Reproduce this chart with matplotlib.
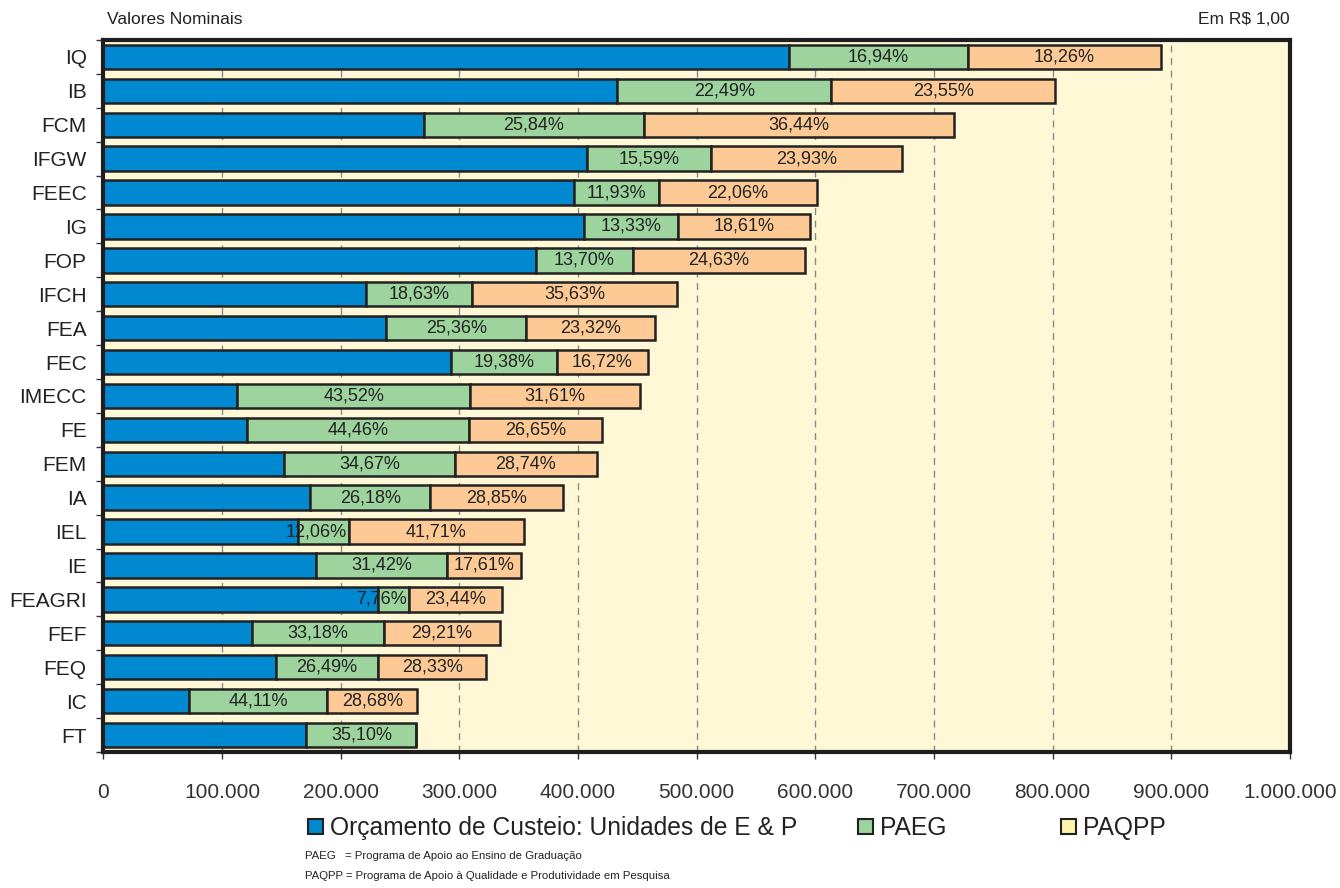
import matplotlib
matplotlib.use('Agg')
import matplotlib.pyplot as plt
from matplotlib.patches import Patch
from matplotlib import font_manager
from matplotlib.ticker import FixedLocator, FuncFormatter

unidades = ['IQ', 'IB', 'FCM', 'IFGW', 'FEEC', 'IG', 'FOP', 'IFCH', 'FEA', 'FEC', 'IMECC',
            'FE', 'FEM', 'IA', 'IEL', 'IE', 'FEAGRI', 'FEF', 'FEQ', 'IC', 'FT']
total = [891400, 802300, 716500, 673300, 601000, 595100, 591700, 483100, 464900, 458600, 452400,
         419900, 415700, 387300, 354700, 351800, 336200, 334000, 322800, 264600, 263800]
pct_paeg = [16.94, 22.49, 25.84, 15.59, 11.93, 13.33, 13.70, 18.63, 25.36, 19.38, 43.52,
            44.46, 34.67, 26.18, 12.06, 31.42, 7.76, 33.18, 26.49, 44.11, 35.10]
pct_paqpp = [18.26, 23.55, 36.44, 23.93, 22.06, 18.61, 24.63, 35.63, 23.32, 16.72, 31.61,
             26.65, 28.74, 28.85, 41.71, 17.61, 23.44, 29.21, 28.33, 28.68, 0.0]
x_ticks = [0, 100000, 200000, 300000, 400000, 500000, 600000, 700000, 800000, 900000, 1000000]

paeg = [t * p / 100 for t, p in zip(total, pct_paeg)]
paqpp = [t * p / 100 for t, p in zip(total, pct_paqpp)]
orcamento = [t - a - b for t, a, b in zip(total, paeg, paqpp)]

plt.rcParams['font.family'] = ['Liberation Sans', 'DejaVu Sans']
installed = {f.name for f in font_manager.fontManager.ttflist}
if 'Liberation Sans Narrow' in installed:
    narrow = ['Liberation Sans Narrow', 'Liberation Sans', 'DejaVu Sans']
    leg_size, note_size = 20, 9.5
else:
    narrow = ['Liberation Sans', 'DejaVu Sans']
    leg_size, note_size = 17.7, 8.2

c_blue = '#0088d0'
c_green = '#9dd39d'
c_orange = '#fdca96'
c_bg = '#fff8d6'
c_edge = '#222222'

fig = plt.figure(figsize=(13.4, 8.88), dpi=100)
ax = fig.add_axes([0.0771, 0.1532, 0.8856, 0.8018])
ax.set_facecolor(c_bg)

y = list(range(len(unidades)))
h = 0.72
ax.barh(y, orcamento, height=h, color=c_blue, edgecolor=c_edge, linewidth=1.8)
ax.barh(y, paeg, left=orcamento, height=h, color=c_green, edgecolor=c_edge, linewidth=1.8)
left2 = [a + b for a, b in zip(orcamento, paeg)]
ax.barh(y, paqpp, left=left2, height=h, color=c_orange, edgecolor=c_edge, linewidth=1.8)

def fmt_pct(p):
    return f'{p:.2f}%'.replace('.', ',')

for i in y:
    # PAEG label, pushed against the right end when the segment is narrow
    if paeg[i] < 55000:
        ax.text(left2[i] - 1500, i, fmt_pct(pct_paeg[i]), ha='right', va='center',
                fontsize=13, color=c_edge)
    else:
        ax.text(orcamento[i] + paeg[i] / 2, i, fmt_pct(pct_paeg[i]), ha='center', va='center',
                fontsize=13, color=c_edge)
    if pct_paqpp[i] > 0:
        ax.text(left2[i] + paqpp[i] / 2, i, fmt_pct(pct_paqpp[i]), ha='center', va='center',
                fontsize=13, color=c_edge)

ax.set_xlim(0, 1000000)
ax.set_ylim(len(unidades) - 0.5, -0.5)
ax.xaxis.set_major_locator(FixedLocator(x_ticks))
ax.xaxis.set_major_formatter(FuncFormatter(lambda v, pos: f'{int(v):,}'.replace(',', '.')))
ax.set_yticks(y)
ax.set_yticklabels(unidades)
ax.yaxis.set_minor_locator(FixedLocator([k - 0.5 for k in range(len(unidades) + 1)]))

ax.xaxis.grid(True, linestyle=(0, (5, 4)), color='#8a8a8a', linewidth=1)
ax.set_axisbelow(True)
ax.tick_params(axis='x', direction='out', length=5, width=1, pad=17, labelsize=15,
               colors='#333333')
ax.tick_params(axis='y', which='major', length=0, pad=12, labelsize=15, labelcolor='#222222')
ax.tick_params(axis='y', which='minor', direction='out', length=5, width=1, color='#333333')
for s in ax.spines.values():
    s.set_linewidth(3)
    s.set_color('#1e1e1e')

fig.text(107 / 1340, 1 - 20 / 888, 'Valores Nominais', va='center', fontsize=12.5, color='#222222')
fig.text(1290 / 1340, 1 - 20 / 888, 'Em R$ 1,00', ha='right', va='center', fontsize=12.5,
         color='#222222')

entries = [(c_blue, 'Orçamento de Custeio: Unidades de E & P', 308),
           (c_green, 'PAEG', 858),
           ('#fff2aa', 'PAQPP', 1061)]
for color, label, xpos in entries:
    leg = fig.legend(handles=[Patch(facecolor=color, edgecolor=c_edge, linewidth=1.5, label=label)],
                     loc='center left', bbox_to_anchor=(xpos / 1340, 1 - 828 / 888),
                     frameon=False, handlelength=0.6, handleheight=0.6, handletextpad=0.3,
                     borderpad=0, borderaxespad=0, prop={'family': narrow, 'size': leg_size})
    for t in leg.get_texts():
        t.set_color('#222222')

fig.text(305 / 1340, 1 - 856 / 888, 'PAEG   = Programa de Apoio ao Ensino de Graduação',
         va='center', fontsize=note_size, family=narrow, color='#222222')
fig.text(305 / 1340, 1 - 876 / 888, 'PAQPP = Programa de Apoio à Qualidade e Produtividade em Pesquisa',
         va='center', fontsize=note_size, family=narrow, color='#222222')

fig.savefig('out.png', dpi=100)
